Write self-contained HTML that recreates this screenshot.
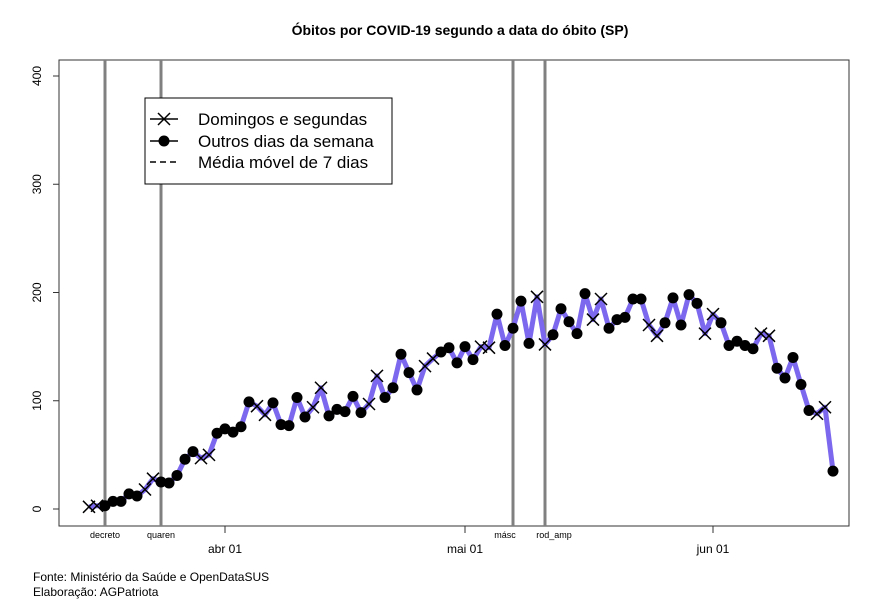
<!DOCTYPE html>
<html><head><meta charset="utf-8"><style>
body{margin:0;background:#fff}
svg{display:block;font-family:"Liberation Sans",sans-serif}
</style></head><body>
<svg id="chart" width="894" height="600">
<text x="460" y="35" text-anchor="middle" font-weight="bold" font-size="14">Óbitos por COVID-19 segundo a data do óbito (SP)</text>
<rect x="59" y="60" width="790" height="466" fill="none" stroke="#333" stroke-width="1"/>
<g id="yaxis"></g>
<g id="xaxis"></g>
<g id="events"></g>
<g id="series"></g>
<g>
<rect x="145" y="98" width="247" height="86" fill="#fff" stroke="#000"/>
<g><line x1="150" y1="119" x2="178" y2="119" stroke="#000" stroke-width="1.5"/><path d="M158,113 l12,12 M170,113 l-12,12" stroke="#000" stroke-width="1.5"/><text x="198" y="125" font-size="17">Domingos e segundas</text></g>
<g><line x1="150" y1="141" x2="178" y2="141" stroke="#000" stroke-width="1.5"/><circle cx="164" cy="141" r="5.5"/><text x="198" y="147" font-size="17">Outros dias da semana</text></g>
<g><line x1="150" y1="162" x2="178" y2="162" stroke="#000" stroke-width="1.5" stroke-dasharray="6,4"/><text x="198" y="168" font-size="17">Média móvel de 7 dias</text></g>
</g>
<text x="33" y="581" font-size="12">Fonte: Ministério da Saúde e OpenDataSUS</text>
<text x="33" y="596" font-size="12">Elaboração: AGPatriota</text>
</svg>
<script>
const deaths=[2,3,3,7,7,14,12,18,28,25,24,31,46,53,47,50,70,74,71,76,99,95,87,98,78,77,103,85,94,112,86,92,90,104,89,97,123,103,112,143,126,110,132,139,145,149,135,150,138,150,149,180,151,167,192,153,196,152,161,185,173,162,199,175,194,167,175,177,194,194,170,160,172,195,170,198,190,162,180,172,151,155,151,148,162,160,130,121,140,115,91,88,94,35];
const yTicks=[0,100,200,300,400];
const xTickDays=[17,47,78];
const xTickLabels=["abr 01","mai 01","jun 01"];
const eventDays=[2,9,53,57];
const eventLabels=["decreto","quaren","másc","rod_amp"];
const eventLabelShift=[0,0,-8,9];
const NS="http://www.w3.org/2000/svg";
const xs=d=>89+8*d, ys=v=>509-1.0825*v;
function mk(tag,attrs,parent){const e=document.createElementNS(NS,tag);for(const k in attrs)e.setAttribute(k,attrs[k]);parent.appendChild(e);return e;}
const ya=document.getElementById('yaxis');
yTicks.forEach(v=>{
  const t=mk('line',{x1:53,x2:59,y1:ys(v),y2:ys(v),stroke:'#333'},ya);
  
  
  const l=mk('text',{x:0,y:0,'font-size':12,'text-anchor':'middle',transform:`translate(41,${ys(v)}) rotate(-90)`},ya);
  l.textContent=v;
  
  
});
const xa=document.getElementById('xaxis');
xTickDays.forEach((d,i)=>{
  const t=mk('line',{x1:xs(d),x2:xs(d),y1:526,y2:533,stroke:'#333'},xa);
  
  
  const l=mk('text',{x:xs(d),y:553,'font-size':12,'text-anchor':'middle'},xa);
  l.textContent=xTickLabels[i];
  
  
});
const ev=document.getElementById('events');
eventDays.forEach((d,i)=>{
  const ln=mk('line',{x1:xs(d),x2:xs(d),y1:60,y2:526,stroke:'#808080','stroke-width':3},ev);
  
  
  const l=mk('text',{x:xs(d)+eventLabelShift[i],y:538,'font-size':9,'text-anchor':'middle'},ev);
  l.textContent=eventLabels[i];
  
  
});
const sg=document.getElementById('series');
const line=mk('polyline',{points:deaths.map((v,i)=>xs(i)+','+ys(v)).join(' '),fill:'none',stroke:'#7b68ee','stroke-width':5,'stroke-linejoin':'round'},sg);


deaths.forEach((v,i)=>{
  const x=xs(i),y=ys(v);
  let m;
  if(i%7===0||i%7===1){
    m=mk('path',{d:`M${x-6},${y-6}L${x+6},${y+6}M${x+6},${y-6}L${x-6},${y+6}`,stroke:'#000','stroke-width':1.5},sg);
    
  } else {
    m=mk('circle',{cx:x,cy:y,r:5.5,fill:'#000'},sg);
    
  }
  
});
</script>
</body></html>
